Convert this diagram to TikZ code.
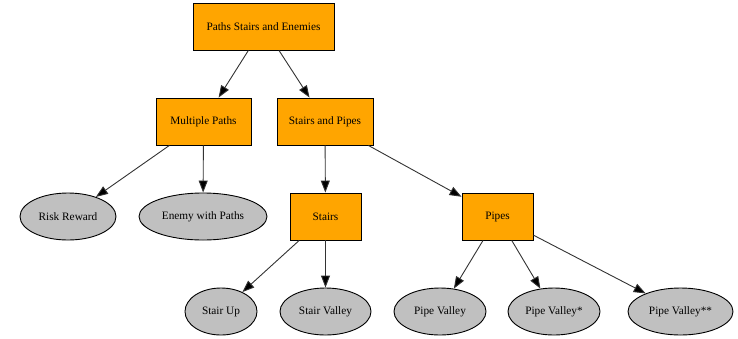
\documentclass[tikz,border=0pt]{standalone}
\usepackage{fontspec}
\setmainfont{Liberation Serif}
\usetikzlibrary{arrows.meta,shapes.geometric}
\definecolor{boxfill}{HTML}{FFA500}
\definecolor{ellfill}{HTML}{C0C0C0}
\tikzset{
  boxnode/.style={draw=black, line width=0.9pt, fill=boxfill, rectangle, inner sep=0pt, minimum height=47pt, font=\fontsize{11.3}{13}\selectfont},
  ellnode/.style={draw=black, line width=0.9pt, fill=ellfill, ellipse, inner sep=0pt, minimum height=47pt, font=\fontsize{11.3}{13}\selectfont},
  edge/.style={draw=black!80, line width=0.9pt, -{Triangle[length=12pt,width=9pt,fill=black]}}
}
\begin{document}
\begin{tikzpicture}[x=1pt,y=-1pt]
\useasboundingbox (0,0) rectangle (738,338);
\node[boxnode, minimum width=141pt] (pse) at (263.5,26.5) {Paths Stairs and Enemies};
\node[boxnode, minimum width=95pt] (mp) at (203.5,121.5) {Multiple Paths};
\node[boxnode, minimum width=96pt] (sp) at (325,121.5) {Stairs and Pipes};
\node[ellnode, minimum width=96pt] (rr) at (68,216.5) {Risk Reward};
\node[ellnode, minimum width=128pt] (ewp) at (203,216.5) {Enemy with Paths};
\node[boxnode, minimum width=71pt] (st) at (325.5,216.5) {Stairs};
\node[boxnode, minimum width=71pt] (pi) at (497.5,216.5) {Pipes};
\node[ellnode, minimum width=72pt] (su) at (221,311.5) {Stair Up};
\node[ellnode, minimum width=91pt] (sv) at (325.5,311.5) {Stair Valley};
\node[ellnode, minimum width=92pt] (pv) at (440,311.5) {Pipe Valley};
\node[ellnode, minimum width=92pt] (pv1) at (554,311.5) {Pipe Valley*};
\node[ellnode, minimum width=105pt] (pv2) at (680.5,311.5) {Pipe Valley**};
\draw[edge] (pse) -- (mp);
\draw[edge] (pse) -- (sp);
\draw[edge] (mp) -- (rr);
\draw[edge] (mp) -- (ewp);
\draw[edge] (sp) -- (st);
\draw[edge] (sp) -- (pi);
\draw[edge] (st) -- (su);
\draw[edge] (st) -- (sv);
\draw[edge] (pi) -- (pv);
\draw[edge] (pi) -- (pv1);
\draw[edge] (pi) -- (pv2);
\end{tikzpicture}
\end{document}
